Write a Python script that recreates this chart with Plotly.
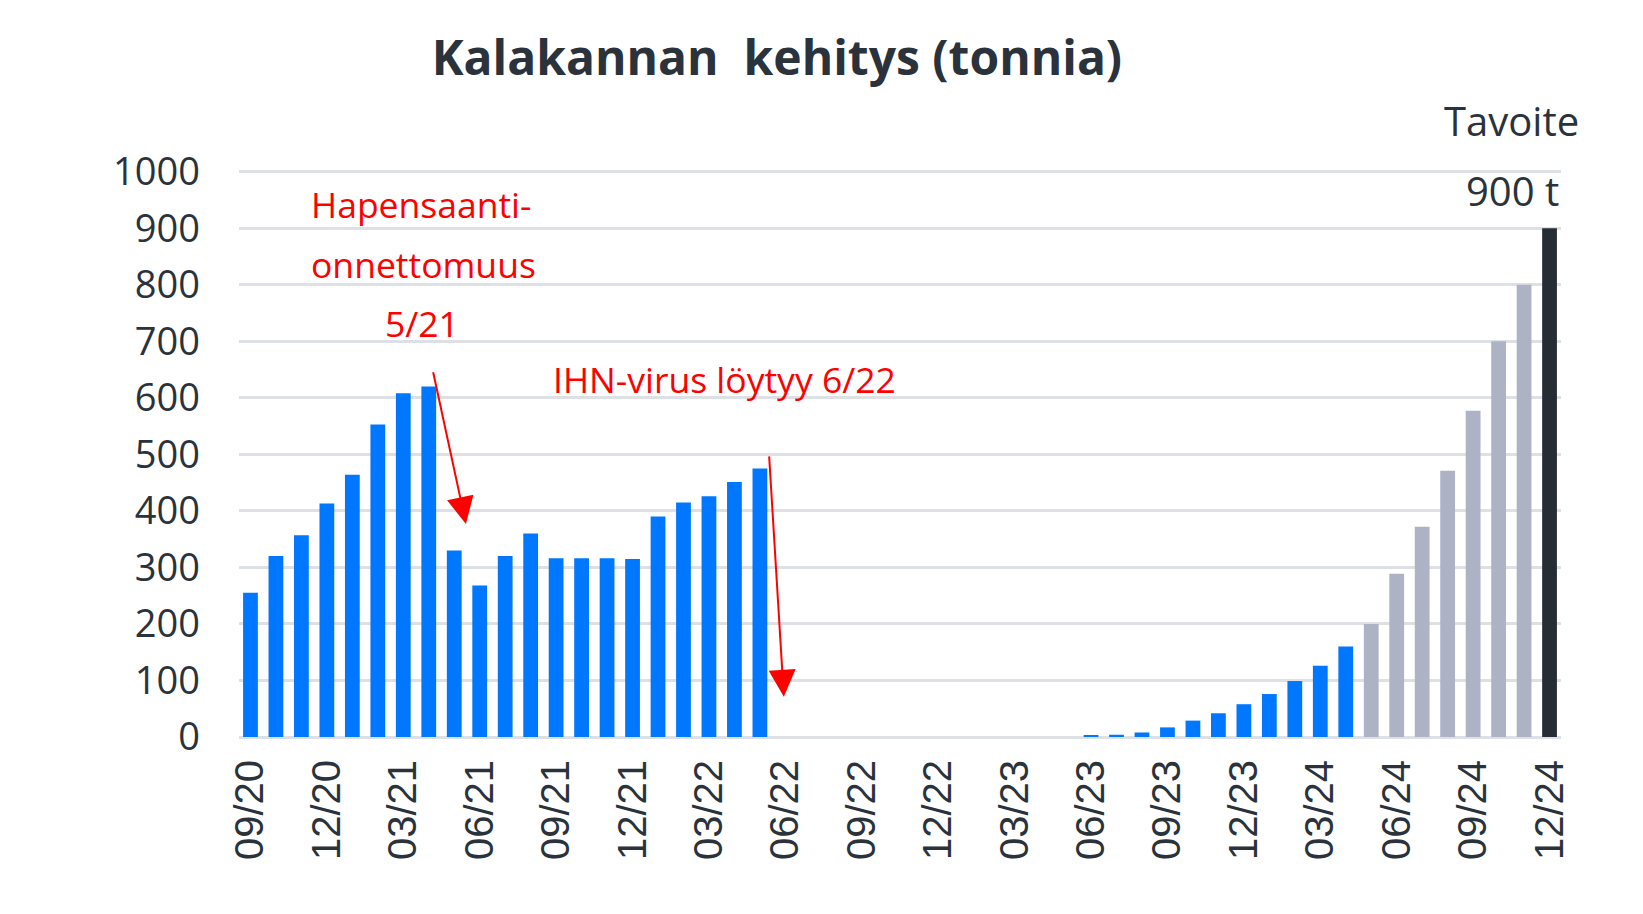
import plotly.graph_objects as go

months = ["09/20","10/20","11/20","12/20","01/21","02/21","03/21","04/21","05/21","06/21","07/21","08/21",
          "09/21","10/21","11/21","12/21","01/22","02/22","03/22","04/22","05/22","06/22","07/22","08/22",
          "09/22","10/22","11/22","12/22","01/23","02/23","03/23","04/23","05/23","06/23","07/23","08/23",
          "09/23","10/23","11/23","12/23","01/24","02/24","03/24","04/24","05/24","06/24","07/24","08/24",
          "09/24","10/24","11/24","12/24"]
values = [255, 320, 357, 413, 464, 553, 608, 620, 330, 268, 320, 360,
          316, 316, 316, 315, 390, 415, 426, 451, 475, 0, 0, 0,
          0, 0, 0, 0, 0, 0, 0, 0, 0, 2, 4, 8,
          17, 29, 42, 58, 76, 99, 126, 160, 200, 289, 372, 471,
          577, 700, 800, 900]
status = ["actual"] * 44 + ["forecast"] * 7 + ["target"]
color_map = {"actual": "#0077FF", "forecast": "#ADB3C5", "target": "#262D34"}
tick_step = 3

x = list(range(len(months)))
colors = [color_map[s] for s in status]

FONT = "Open Sans"
TICKFONT = "Liberation Sans"
DARK = "#2A323B"
RED = "#FF0000"

fig = go.Figure(go.Bar(x=x, y=values, marker=dict(color=colors, line=dict(width=0)), width=0.58,
                       hoverinfo="y"))

annotations = [
    dict(x=2.3, y=943, text="Hapensaanti-", xanchor="left", font=dict(color=RED, size=35.5)),
    dict(x=2.3, y=837, text="onnettomuus", xanchor="left", font=dict(color=RED, size=35.5)),
    dict(x=6.75, y=732, text="5/21", xanchor="center", font=dict(color=RED, size=35.5)),
    dict(x=11.8, y=634, text="IHN-virus löytyy 6/22", xanchor="left", font=dict(color=RED, size=35.5)),
    dict(x=51.45, y=967, text="900 t", xanchor="right", font=dict(color=DARK, size=40)),
]
for a in annotations:
    a.update(xref="x", yref="y", showarrow=False, yanchor="middle")
annotations.append(dict(x=1.0155, y=1.087, xref="paper", yref="paper", text="Tavoite", showarrow=False,
                        xanchor="right", yanchor="middle", font=dict(color=DARK, size=40)))

arrows = [((8.46, 377), (7.16, 648)), ((20.94, 71), (20.36, 499))]
for (hx, hy), (tx, ty) in arrows:
    annotations.append(dict(x=hx, y=hy, ax=tx, ay=ty, xref="x", yref="y", axref="x", ayref="y",
                            text="", showarrow=True, arrowhead=2, arrowsize=2.7, arrowwidth=2,
                            arrowcolor=RED))

fig.update_layout(
    width=1643, height=914,
    margin=dict(l=231, r=90, t=162, b=185),
    paper_bgcolor="white", plot_bgcolor="white",
    font=dict(family=FONT, color=DARK),
    title=dict(text="<b>Kalakannan&nbsp; kehitys (tonnia)</b>", x=0.468, xanchor="center", y=0.945,
               yanchor="middle", font=dict(size=48, color=DARK, family=FONT)),
    showlegend=False,
    bargap=0.42,
    annotations=annotations,
)
fig.update_xaxes(
    range=[-0.45, len(months) - 0.55],
    tickmode="array", tickvals=x[::tick_step], ticktext=months[::tick_step],
    tickangle=-90, tickfont=dict(size=40, color=DARK, family=TICKFONT),
    showgrid=False, zeroline=False, showline=False, ticks="", ticklabelstandoff=14,
)
fig.update_yaxes(
    range=[0, 1003], tickvals=list(range(0, 1001, 100)),
    tickfont=dict(size=38, color=DARK, family=FONT),
    showgrid=True, gridcolor="#DDE1E6", gridwidth=2.5, zeroline=True, zerolinecolor="#DDE1E6",
    zerolinewidth=2.5, showline=False, ticks="", ticklabelstandoff=38,
)

fig.write_html("out.html")
